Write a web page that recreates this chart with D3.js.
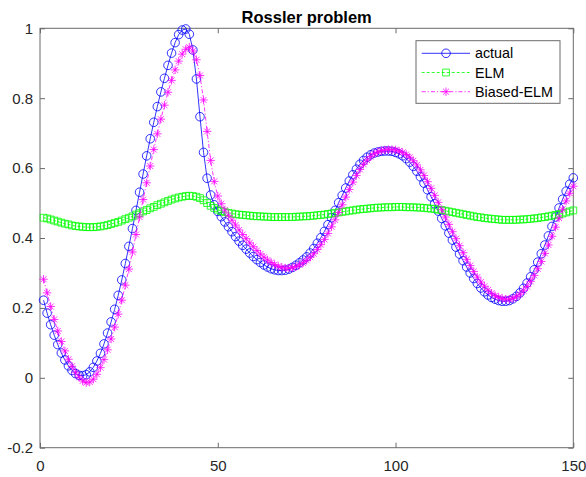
<!DOCTYPE html>
<html>
<head>
<meta charset="utf-8">
<script src="https://cdn.jsdelivr.net/npm/d3@7/dist/d3.min.js"></script>
<style>
  html, body { margin: 0; padding: 0; background: #fff; }
  svg { display: block; font-family: "Liberation Sans", Arial, Helvetica, sans-serif; }
</style>
</head>
<body>
<svg id="chart" width="586" height="477"></svg>
<script>
// Sample index along the horizontal axis
const sampleIndex = d3.range(1, 151);

// Target series
const actual = [
  0.222,0.185,0.152,0.122,0.095,0.071,0.051,0.034,0.021,0.012,
  0.007,0.006,0.009,0.017,0.030,0.048,0.070,0.097,0.128,0.160,
  0.196,0.236,0.280,0.327,0.376,0.427,0.479,0.531,0.583,0.635,
  0.684,0.731,0.776,0.818,0.857,0.894,0.929,0.959,0.982,0.995,
  0.998,0.983,0.938,0.855,0.747,0.645,0.571,0.523,0.495,0.476,
  0.461,0.446,0.432,0.418,0.404,0.391,0.379,0.368,0.357,0.347,
  0.338,0.330,0.323,0.317,0.312,0.309,0.307,0.307,0.308,0.311,
  0.316,0.322,0.329,0.337,0.346,0.357,0.370,0.385,0.401,0.419,
  0.438,0.458,0.479,0.501,0.522,0.543,0.563,0.581,0.597,0.611,
  0.622,0.631,0.638,0.643,0.646,0.648,0.649,0.649,0.648,0.645,
  0.641,0.635,0.627,0.617,0.605,0.591,0.575,0.557,0.538,0.518,
  0.498,0.477,0.456,0.435,0.414,0.394,0.374,0.354,0.335,0.317,
  0.300,0.284,0.270,0.257,0.246,0.237,0.230,0.225,0.221,0.219,
  0.219,0.221,0.226,0.233,0.243,0.256,0.271,0.289,0.309,0.331,
  0.355,0.380,0.406,0.433,0.460,0.486,0.511,0.534,0.554,0.572
];

// Plain ELM prediction
const elm = [
  0.458,0.456,0.453,0.450,0.447,0.444,0.441,0.439,0.436,0.434,
  0.433,0.432,0.431,0.431,0.431,0.432,0.433,0.435,0.437,0.440,
  0.443,0.446,0.450,0.454,0.458,0.462,0.467,0.471,0.476,0.480,
  0.485,0.489,0.494,0.498,0.502,0.506,0.510,0.513,0.516,0.518,
  0.520,0.521,0.520,0.518,0.514,0.508,0.500,0.492,0.486,0.481,
  0.477,0.474,0.472,0.470,0.468,0.467,0.466,0.465,0.464,0.463,
  0.462,0.462,0.461,0.461,0.460,0.460,0.460,0.460,0.460,0.460,
  0.460,0.461,0.461,0.462,0.462,0.463,0.464,0.465,0.466,0.467,
  0.469,0.470,0.472,0.473,0.475,0.476,0.478,0.479,0.481,0.482,
  0.483,0.484,0.485,0.486,0.487,0.487,0.488,0.488,0.488,0.489,
  0.489,0.489,0.488,0.488,0.488,0.487,0.487,0.486,0.485,0.484,
  0.483,0.481,0.480,0.478,0.476,0.474,0.472,0.470,0.468,0.466,
  0.464,0.462,0.460,0.459,0.457,0.456,0.455,0.454,0.453,0.452,
  0.452,0.452,0.452,0.452,0.453,0.453,0.454,0.455,0.456,0.457,
  0.459,0.460,0.462,0.464,0.466,0.468,0.470,0.473,0.476,0.479
];

// Biased-ELM prediction
const biasedElm = [
  0.282,0.243,0.204,0.167,0.134,0.104,0.077,0.053,0.033,0.016,
  0.002,-0.009,-0.014,-0.012,-0.004,0.010,0.029,0.052,0.080,0.111,
  0.145,0.182,0.222,0.265,0.311,0.360,0.410,0.460,0.510,0.558,
  0.606,0.653,0.698,0.740,0.780,0.817,0.851,0.881,0.906,0.926,
  0.940,0.946,0.935,0.910,0.865,0.795,0.705,0.622,0.562,0.520,
  0.498,0.480,0.465,0.451,0.437,0.423,0.410,0.398,0.386,0.375,
  0.364,0.354,0.345,0.337,0.330,0.324,0.319,0.316,0.314,0.314,
  0.315,0.318,0.323,0.329,0.336,0.345,0.355,0.367,0.381,0.396,
  0.413,0.432,0.452,0.473,0.495,0.517,0.539,0.560,0.579,0.596,
  0.611,0.623,0.633,0.641,0.646,0.650,0.652,0.653,0.653,0.652,
  0.649,0.645,0.639,0.631,0.621,0.609,0.595,0.579,0.561,0.542,
  0.522,0.502,0.481,0.460,0.439,0.418,0.398,0.378,0.358,0.339,
  0.321,0.304,0.288,0.274,0.262,0.251,0.242,0.235,0.230,0.227,
  0.225,0.225,0.227,0.232,0.239,0.249,0.261,0.276,0.293,0.312,
  0.333,0.356,0.380,0.405,0.431,0.457,0.482,0.506,0.528,0.548
];

const seriesNames = ["actual", "ELM", "Biased-ELM"];
const xTicks = [0, 50, 100, 150];
const yTicks = [-0.2, 0, 0.2, 0.4, 0.6, 0.8, 1];
const titleText = "Rossler problem";

(function draw() {
  // Plot frame
  const plotLeft = 40, plotRight = 573.3, plotTop = 28.3, plotBottom = 447.7;
  const svg = d3.select("#chart");
  const x = d3.scaleLinear().domain([0, 150]).range([plotLeft, plotRight]);
  const y = d3.scaleLinear().domain([-0.2, 1]).range([plotBottom, plotTop]);

  const axisColor = "#6a6a6a";
  const textColor = "#262626";
  const fmt = v => (v < 0 ? "-" : "") + String(Math.abs(+v.toFixed(1)));

  // Axes with inward ticks on all four sides
  const gx = svg.append("g").attr("transform", `translate(0,${plotBottom})`)
    .call(d3.axisBottom(x).tickValues(xTicks).tickSizeInner(-5).tickSizeOuter(0).tickPadding(13).tickFormat(d3.format("d")));
  const gxTop = svg.append("g").attr("transform", `translate(0,${plotTop})`)
    .call(d3.axisTop(x).tickValues(xTicks).tickSizeInner(-5).tickSizeOuter(0).tickFormat(""));
  const gy = svg.append("g").attr("transform", `translate(${plotLeft},0)`)
    .call(d3.axisLeft(y).tickValues(yTicks).tickSizeInner(-5).tickSizeOuter(0).tickPadding(7).tickFormat(fmt));
  const gyRight = svg.append("g").attr("transform", `translate(${plotRight},0)`)
    .call(d3.axisRight(y).tickValues(yTicks).tickSizeInner(-5).tickSizeOuter(0).tickFormat(""));

  [gx, gxTop, gy, gyRight].forEach(g => {
    g.select(".domain").remove();
    g.selectAll(".tick line").attr("stroke", axisColor).attr("stroke-width", 1);
    g.selectAll(".tick text").attr("fill", textColor).attr("font-size", 15)
      .attr("font-family", "'Liberation Sans', Arial, sans-serif");
  });

  svg.append("rect")
    .attr("x", plotLeft).attr("y", plotTop)
    .attr("width", plotRight - plotLeft).attr("height", plotBottom - plotTop)
    .attr("fill", "none").attr("stroke", axisColor).attr("stroke-width", 1);

  // Title
  svg.append("text")
    .attr("x", (plotLeft + plotRight) / 2).attr("y", 23)
    .attr("text-anchor", "middle")
    .attr("font-size", 16.5).attr("font-weight", "bold").attr("fill", "#000")
    .text(titleText);

  // Marker shapes
  function circlePath(r) { return `M${r},0A${r},${r} 0 1,1 ${-r},0A${r},${r} 0 1,1 ${r},0Z`; }
  function squarePath(s) { return `M${-s},${-s}H${s}V${s}H${-s}Z`; }
  function starPath(r) {
    const d = r * 0.7071;
    return `M${-r},0H${r}M0,${-r}V${r}M${-d},${-d}L${d},${d}M${-d},${d}L${d},${-d}`;
  }

  const styles = [
    { name: seriesNames[0], values: actual, color: "#0000ff", dash: null, marker: circlePath(4.3) },
    { name: seriesNames[1], values: elm, color: "#00ff00", dash: "3,2", marker: squarePath(3.4) },
    { name: seriesNames[2], values: biasedElm, color: "#ff00ff", dash: "4,2,1.2,2", marker: starPath(4.2) }
  ];

  const line = d3.line().x(d => x(d[0])).y(d => y(d[1]));

  styles.forEach(s => {
    const pts = sampleIndex.map((k, i) => [k, s.values[i]]);
    const g = svg.append("g");
    g.append("path")
      .attr("d", line(pts))
      .attr("fill", "none").attr("stroke", s.color).attr("stroke-width", 0.8)
      .attr("stroke-dasharray", s.dash);
    g.selectAll("path.mk").data(pts).enter().append("path")
      .attr("class", "mk")
      .attr("transform", d => `translate(${x(d[0])},${y(d[1])})`)
      .attr("d", s.marker)
      .attr("fill", "none").attr("stroke", s.color).attr("stroke-width", 0.8);
  });

  // Legend
  const lg = svg.append("g");
  const lgX = 416, lgY = 40.7, lgW = 144, lgH = 62.6;
  lg.append("rect").attr("x", lgX).attr("y", lgY).attr("width", lgW).attr("height", lgH)
    .attr("fill", "#fff").attr("stroke", axisColor).attr("stroke-width", 1);
  styles.forEach((s, i) => {
    const cy = 53.3 + i * 19.2;
    lg.append("line").attr("x1", 421.7).attr("x2", 470).attr("y1", cy).attr("y2", cy)
      .attr("stroke", s.color).attr("stroke-width", 0.8).attr("stroke-dasharray", s.dash);
    lg.append("path").attr("transform", `translate(446,${cy})`).attr("d", s.marker)
      .attr("fill", "none").attr("stroke", s.color).attr("stroke-width", 0.8);
    lg.append("text").attr("x", 475).attr("y", cy).attr("dy", "0.35em")
      .attr("font-size", 14.3).attr("fill", "#000").text(s.name);
  });
})();
</script>
</body>
</html>
